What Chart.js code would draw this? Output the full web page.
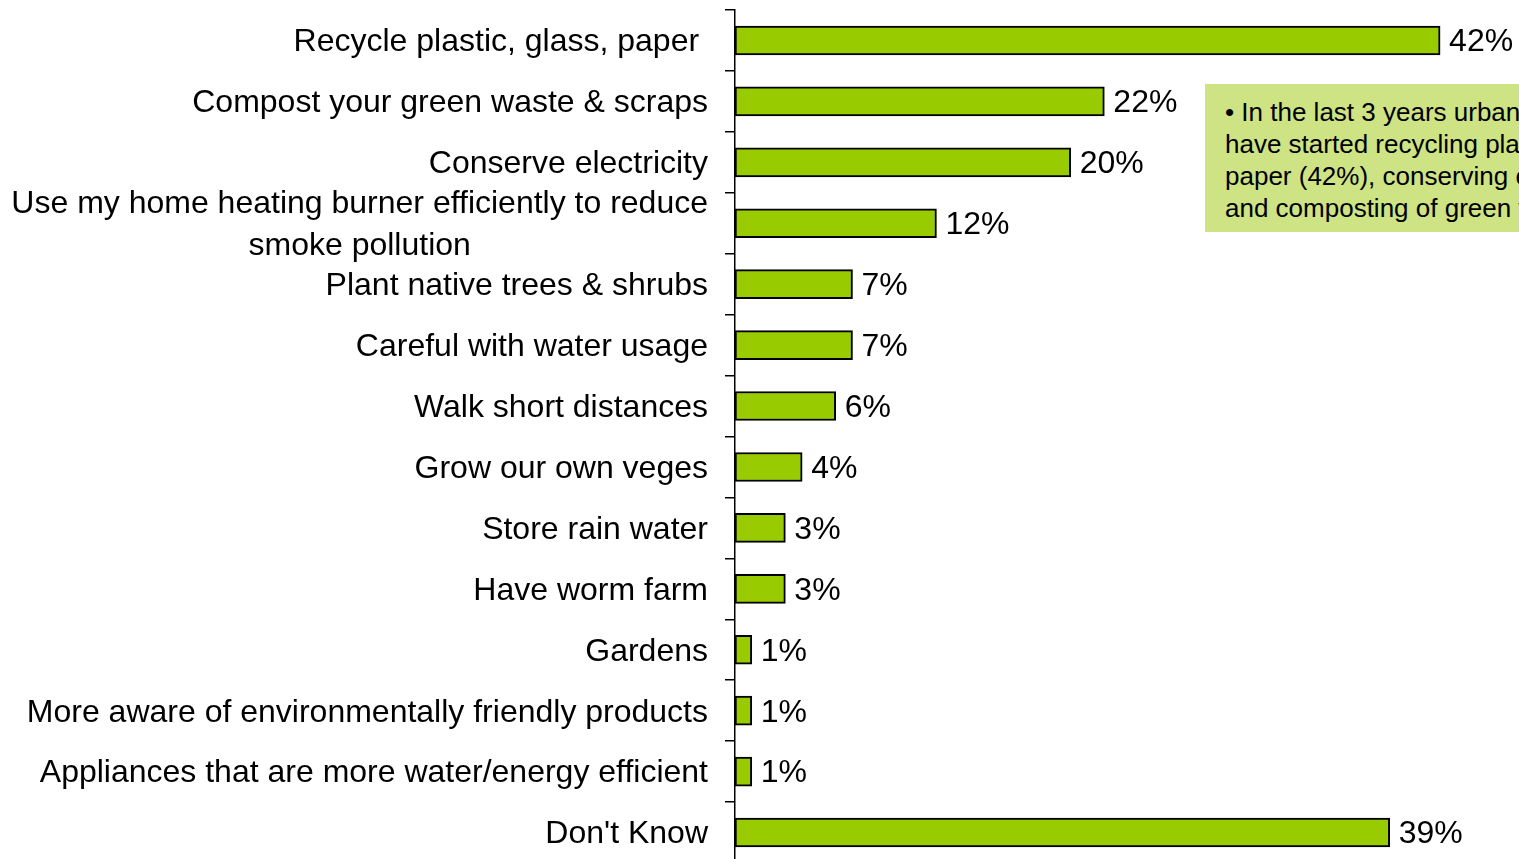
<!DOCTYPE html>
<html>
<head>
<meta charset="utf-8">
<script src="https://cdn.jsdelivr.net/npm/chart.js@4"></script>
<style>
  html, body { margin: 0; padding: 0; background: #fff; overflow: hidden; width: 1519px; height: 859px; }
  #wrap { position: relative; width: 1519px; height: 864px; }
  #note {
    position: absolute; left: 1205px; top: 84px; width: 420px; height: 148px;
    background: #cde384; box-sizing: border-box; padding: 12px 0 0 20px;
    font: 26px/32px "Liberation Sans", Arial, sans-serif; color: #000; white-space: nowrap;
  }
</style>
</head>
<body>
<div id="wrap">
  <canvas id="chart" width="1519" height="864"></canvas>
  <div id="note">• In the last 3 years urban residents<br>have started recycling plastic, glass and<br>paper (42%), conserving electricity (20%)<br>and composting of green waste (22%)</div>
</div>
<script>
/* ---------- Datos ---------- */
const categories = [
  'Recycle plastic, glass, paper ',
  'Compost your green waste & scraps',
  'Conserve electricity',
  ['Use my home heating burner efficiently to reduce', 'smoke pollution'],
  'Plant native trees & shrubs',
  'Careful with water usage',
  'Walk short distances',
  'Grow our own veges',
  'Store rain water',
  'Have worm farm',
  'Gardens',
  'More aware of environmentally friendly products',
  'Appliances that are more water/energy efficient',
  "Don't Know"
];
const values = [42, 22, 20, 12, 7, 7, 6, 4, 3, 3, 1, 1, 1, 39];

const FONT = '"Liberation Sans", Arial, sans-serif';

/* ---------- Etiquetas de categorías y valores ---------- */
const labelPlugin = {
  id: 'labels',
  afterDatasetsDraw(chart) {
    const ctx = chart.ctx;
    const yScale = chart.scales.y;
    const meta = chart.getDatasetMeta(0);
    ctx.save();
    ctx.font = '32px ' + FONT;
    ctx.fillStyle = '#000';
    ctx.textBaseline = 'middle';

    const right = yScale.right - 27;
    const lh = 42;
    const dy = 2; // ajuste óptico vertical
    categories.forEach((lab, i) => {
      const lines = Array.isArray(lab) ? lab : [lab];
      const cy = yScale.getPixelForValue(i) + dy;
      const w0 = ctx.measureText(lines[0]).width;
      lines.forEach((ln, k) => {
        const ly = cy + (k - (lines.length - 1) / 2) * lh;
        if (k === 0) { ctx.textAlign = 'right'; ctx.fillText(ln, right, ly); }
        else { ctx.textAlign = 'center'; ctx.fillText(ln, right - w0 / 2, ly); }
      });
    });

    ctx.textAlign = 'left';
    meta.data.forEach((bar, i) => {
      ctx.fillText(values[i] + '%', bar.x + 9, bar.y + dy);
    });
    ctx.restore();
  }
};

new Chart(document.getElementById('chart'), {
  type: 'bar',
  data: {
    labels: categories,
    datasets: [{
      data: values,
      backgroundColor: '#99cc00',
      borderColor: '#000',
      borderWidth: 2,
      borderSkipped: false,
      barThickness: 29
    }]
  },
  options: {
    indexAxis: 'y',
    responsive: false,
    animation: false,
    devicePixelRatio: 1,
    layout: { padding: { top: 10, bottom: 1, left: 0, right: 0 } },
    plugins: { legend: { display: false }, tooltip: { enabled: false } },
    scales: {
      x: { display: false, min: 0, max: 46.7 },
      y: {
        afterFit: s => { s.width = 735; },
        ticks: { display: false },
        border: { display: true, color: '#000', width: 1.5 },
        grid: { drawOnChartArea: false, drawTicks: true, tickLength: 10, color: '#000', lineWidth: 1.5, offset: true }
      }
    }
  },
  plugins: [labelPlugin]
});
</script>
</body>
</html>
